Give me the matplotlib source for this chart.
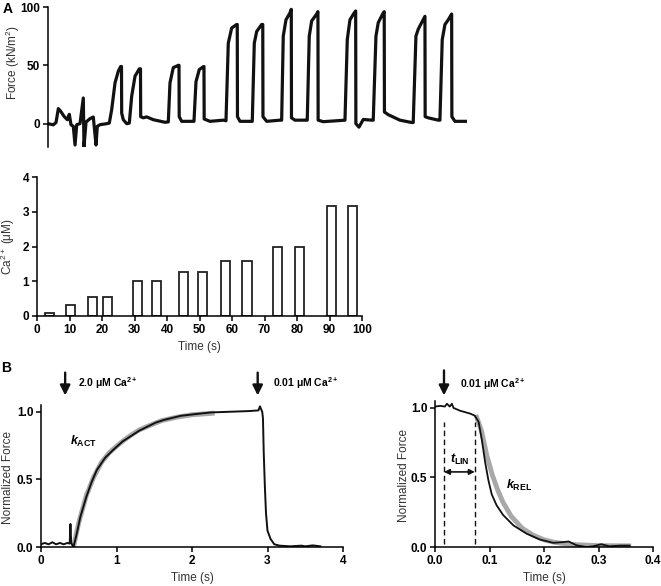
import matplotlib.pyplot as plt
from matplotlib.ticker import FormatStrFormatter

plt.rcParams['font.family'] = ['Liberation Sans', 'DejaVu Sans']
plt.rcParams['mathtext.fontset'] = 'custom'
plt.rcParams['mathtext.rm'] = 'Liberation Sans'
plt.rcParams['mathtext.it'] = 'Liberation Sans:italic:bold'
plt.rcParams['mathtext.bf'] = 'Liberation Sans:bold'
plt.rcParams['axes.linewidth'] = 1.1

# ---- panel A, force trace (time s, force kN/m^2)
force_t = [0.36, 1.65, 2.31, 2.87, 3.45, 4.25, 5.05, 5.54, 5.95, 6.51, 6.93, 7.34, 8.14,
           8.94, 9.11, 9.6, 10.57, 11.37, 12.03, 12.34, 13.0, 14.63, 15.26,
           15.84, 16.65, 17.45, 18.03, 18.22, 18.27, 18.66, 19.49, 20.12,
           20.70, 21.51, 22.55, 22.84, 22.89, 23.52, 24.35, 25.95, 28.80, 29.60,
           30.01, 30.81, 32.03, 32.2, 32.25, 32.85, 35.28, 35.84,
           36.33, 37.13, 38.10, 38.27, 38.32, 39.73, 42.96, 43.62,
           44.18, 45.0, 46.22, 46.36, 46.41, 47.02, 49.45, 50.01,
           50.5, 51.08, 52.29, 52.56, 52.61, 53.51, 56.74, 57.15,
           57.54, 58.2, 59.17, 59.49, 59.54, 60.39, 63.06, 63.37,
           63.86, 64.44, 65.66, 65.97, 66.02, 67.26, 72.54,
           73.1, 73.75, 74.72, 75.14, 75.19, 75.94, 76.98, 79.02, 79.41,
           80.07, 80.63, 81.7, 82.08, 82.13, 83.06, 85.9, 88.74, 89.13,
           89.79, 90.35, 91.17, 91.98, 92.03, 92.78, 95.21, 95.62,
           96.18, 96.84, 97.64, 98.47, 98.52, 99.27, 102.1]
force_kn = [0, -1, 1, 12.9, 10.6, 6.3, 3.4, 8, -0.9, -2.3, -18.3, -0.9, 0,
            22, -19.8, 1.4, 4.3, 5.7, -18.3, -2.3, -0.9, 0, 0.5,
            12, 35, 45, 49, 49, 9, 3.4, 0, 0.5,
            23.5, 40.7, 47, 47, 6, 5, 5.8, 3.4, 1.2, 1.5,
            35, 48, 50, 50, 6, 2, 2, 2,
            36, 46.4, 48.8, 49, 4, 2, 3, 2.5,
            69, 82, 85, 85, 6, 2, 2, 2,
            69, 79, 85, 85, 6, 2, 3, 3,
            75, 89, 95, 98, 5, 3, 3, 3,
            75, 88, 94, 96, 3, 1.7, 3,
            72, 89, 94.6, 96.6, 0, -3, 3.6, 3, 3,
            75, 86.6, 94, 96, 10, 7.7, 3, 1, 1,
            75, 81, 86.6, 92, 6, 5, 3, 3,
            72, 85, 89, 94, 6, 2, 2]

# ---- panel A, Ca2+ steps
ca_time = [3.9, 10.4, 17.0, 21.6, 30.8, 36.8, 45.0, 51.0, 58.0, 64.6, 73.9, 80.9, 90.7, 97.1]
ca_um = [0.1, 0.32, 0.56, 0.56, 1.0, 1.0, 1.26, 1.26, 1.58, 1.58, 2.0, 2.0, 3.16, 3.16]

# ---- panel B left, activation/relaxation
act_t = [0.0, 0.05, 0.1, 0.15, 0.2, 0.25, 0.3, 0.35, 0.38, 0.39, 0.40, 0.43,
         0.47, 0.52, 0.6, 0.67, 0.74, 0.85, 0.96, 1.08, 1.19, 1.3, 1.41, 1.52,
         1.63, 1.85, 2.08, 2.25, 2.5, 2.75, 2.88, 2.90, 2.93, 2.94, 2.95, 2.965,
         2.98, 3.0, 3.04, 3.09, 3.16, 3.3, 3.45, 3.5, 3.6, 3.7]
act_f = [0.02, 0.03, 0.02, 0.035, 0.02, 0.03, 0.02, 0.03, 0.025, 0.17, 0.03, 0.0,
         0.09, 0.22, 0.37, 0.48, 0.57, 0.66, 0.72, 0.78, 0.82, 0.86, 0.89, 0.92,
         0.94, 0.97, 0.985, 0.995, 1.0, 1.005, 1.01, 1.04, 1.0, 0.95, 0.7, 0.45,
         0.25, 0.12, 0.06, 0.02, 0.01, 0.005, 0.01, 0.005, 0.012, 0.005]
act_fit_t = [0.43, 0.5, 0.6, 0.7, 0.8, 0.9, 1.0, 1.1, 1.2, 1.3, 1.4, 1.6, 1.8, 2.0, 2.3]
act_fit_f = [0.0, 0.18, 0.38, 0.52, 0.625, 0.695, 0.745, 0.79, 0.83, 0.865, 0.89, 0.935,
             0.96, 0.978, 0.99]

# ---- panel B right, relaxation detail
rel_t = [0.0, 0.01, 0.018, 0.022, 0.027, 0.031, 0.034, 0.046, 0.064, 0.073, 0.080,
         0.086, 0.092, 0.098, 0.104, 0.113, 0.125, 0.144, 0.168, 0.193, 0.217,
         0.235, 0.245, 0.26, 0.278, 0.29, 0.305, 0.32, 0.34, 0.357]
rel_f = [1.01, 1.015, 1.01, 1.03, 1.01, 1.03, 1.0, 0.98, 0.96, 0.945, 0.90,
         0.77, 0.61, 0.48, 0.38, 0.30, 0.23, 0.155, 0.096, 0.053, 0.03,
         0.035, 0.04, 0.012, 0.0, 0.005, 0.02, 0.005, 0.01, 0.01]
rel_fit_t = [0.075, 0.085, 0.095, 0.105, 0.115, 0.125, 0.14, 0.16, 0.18, 0.2, 0.22,
             0.25, 0.3, 0.36]
rel_fit_f = [0.95, 0.84, 0.66, 0.52, 0.41, 0.32, 0.22, 0.135, 0.085, 0.052, 0.033,
             0.018, 0.01, 0.008]

LBL = 8.5
TCK = 8.5


def bold_ticks(ax):
    for lbl in ax.get_xticklabels() + ax.get_yticklabels():
        lbl.set_fontweight('bold')


def style(ax):
    ax.spines['top'].set_visible(False)
    ax.spines['right'].set_visible(False)
    ax.tick_params(direction='out', length=3.5, width=1.1, labelsize=TCK, pad=2)


fig = plt.figure(figsize=(6.61, 5.86), dpi=100)

# A top
ax1 = fig.add_axes([48/661, 1-147/586, 419/661, 140/586])
ax1.plot(force_t, force_kn, color='#111111', lw=2.3, solid_joinstyle='round')
ax1.set_xlim(0.36, 102.2)
ax1.set_ylim(-20, 100)
ax1.set_yticks([0, 50, 100])
style(ax1)
ax1.spines['bottom'].set_visible(False)
ax1.set_xticks([])
ax1.set_ylabel('Force (kN/m$^2$)', fontsize=LBL, color='#333333')
ax1.yaxis.set_label_coords(-0.062, 0.6)
bold_ticks(ax1)

# A bottom
ax2 = fig.add_axes([37/661, 1-316/586, 325/661, 139/586])
ax2.bar(ca_time, ca_um, width=2.8, facecolor='white', edgecolor='#222222', lw=1.3)
ax2.set_xlim(0, 100)
ax2.set_ylim(0, 4)
ax2.set_xticks(range(0, 101, 10))
ax2.set_yticks([0, 1, 2, 3, 4])
style(ax2)
ax2.set_xlabel('Time (s)', fontsize=LBL, color='#333333', labelpad=4)
ax2.set_ylabel('Ca$^{2+}$ (μM)', fontsize=LBL, color='#333333')
ax2.yaxis.set_label_coords(-0.062, 0.5)
bold_ticks(ax2)

# B left
ax3 = fig.add_axes([41/661, 1-547/586, 302/661, 142/586])
ax3.plot(act_fit_t, act_fit_f, color='#a8a8a8', lw=3.5, solid_capstyle='butt')
ax3.plot(act_t, act_f, color='#111111', lw=1.4)
ax3.set_xlim(0, 4)
ax3.set_ylim(0, 1.05)
ax3.set_xticks([0, 1, 2, 3, 4])
ax3.set_yticks([0, 0.5, 1.0])
ax3.yaxis.set_major_formatter(FormatStrFormatter('%.1f'))
style(ax3)
ax3.set_xlabel('Time (s)', fontsize=LBL, color='#333333', labelpad=4)
ax3.set_ylabel('Normalized Force', fontsize=LBL, color='#333333')
ax3.yaxis.set_label_coords(-0.09, 0.49)
bold_ticks(ax3)
arrow = dict(arrowstyle='-|>', color='#111111', lw=1.7, mutation_scale=15)
ax3.annotate('', xy=(0.32, 1.10), xytext=(0.32, 1.31), arrowprops=arrow,
             annotation_clip=False)
ax3.annotate('', xy=(2.87, 1.10), xytext=(2.87, 1.31), arrowprops=arrow,
             annotation_clip=False)
ax3.text(0.49, 1.21, '2.0 μM Ca$^{\\mathbf{2+}}$', fontsize=7.5, fontweight='bold',
         va='center', clip_on=False)
ax3.text(3.07, 1.21, '0.01 μM Ca$^{\\mathbf{2+}}$', fontsize=7.5, fontweight='bold',
         va='center', clip_on=False)
ax3.text(0.38, 0.755, '$k_{\\mathbf{ACT}}$', fontsize=9)

# B right
ax4 = fig.add_axes([435/661, 1-547/586, 218/661, 146/586])
ax4.plot(rel_fit_t, rel_fit_f, color='#a8a8a8', lw=3.5, solid_capstyle='butt')
ax4.plot(rel_t, rel_f, color='#111111', lw=1.3)
ax4.set_xlim(0, 0.4)
ax4.set_ylim(0, 1.05)
ax4.set_xticks([0, 0.1, 0.2, 0.3, 0.4])
ax4.set_yticks([0, 0.5, 1.0])
ax4.xaxis.set_major_formatter(FormatStrFormatter('%.1f'))
ax4.yaxis.set_major_formatter(FormatStrFormatter('%.1f'))
style(ax4)
ax4.set_xlabel('Time (s)', fontsize=LBL, color='#333333', labelpad=4)
ax4.set_ylabel('Normalized Force', fontsize=LBL, color='#333333')
ax4.yaxis.set_label_coords(-0.115, 0.49)
bold_ticks(ax4)
ax4.vlines([0.0165, 0.073], 0.02, 0.90, colors='#111111', linestyles=(0, (4, 2.5)), lw=1.0)
ax4.annotate('', xy=(0.0165, 0.54), xytext=(0.073, 0.54),
             arrowprops=dict(arrowstyle='<|-|>', color='#111111', lw=1.2, mutation_scale=8,
                             shrinkA=0, shrinkB=0))
ax4.text(0.045, 0.63, '$t_{\\mathbf{LIN}}$', fontsize=9, ha='center', va='center')
ax4.text(0.13, 0.44, '$k_{\\mathbf{REL}}$', fontsize=9, va='center')
ax4.annotate('', xy=(0.0165, 1.07), xytext=(0.0165, 1.29), arrowprops=arrow,
             annotation_clip=False)
ax4.text(0.046, 1.17, '0.01 μM Ca$^{\\mathbf{2+}}$', fontsize=7.5, fontweight='bold',
         va='center', clip_on=False)

fig.text(3/661, 1-13/586, 'A', fontsize=10, fontweight='bold')
fig.text(1/661, 1-372/586, 'B', fontsize=10, fontweight='bold')

fig.savefig('out.png', dpi=100)
